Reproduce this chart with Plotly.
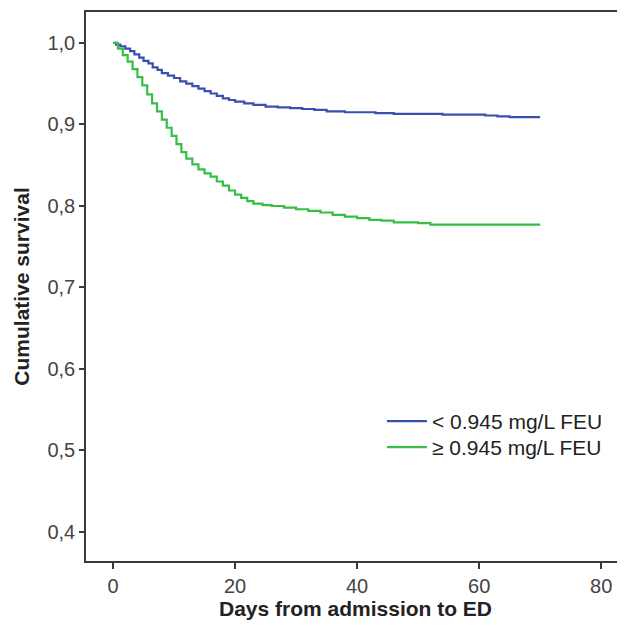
import plotly.graph_objects as go

# Kaplan-Meier step data
blue_days = [0, 0.5, 1.2, 2.0, 2.8, 3.5, 4.3, 5.0, 5.8, 6.5, 7.3, 8.0, 9.0, 10.0, 11.0, 12.0,
             13.0, 14.0, 15.0, 16.0, 17.0, 18.0, 19.0, 20.0, 21.5, 23.0, 25.0, 27.0, 29.0,
             31.0, 33.0, 35.0, 38.0, 43.0, 46.0, 54.0, 61.0, 63.0, 65.0, 70.0]
blue_surv = [1.0, 0.998, 0.996, 0.993, 0.990, 0.986, 0.982, 0.978, 0.975, 0.970, 0.967, 0.963,
             0.960, 0.957, 0.953, 0.950, 0.947, 0.944, 0.941, 0.938, 0.935, 0.932, 0.930,
             0.928, 0.926, 0.924, 0.922, 0.921, 0.920, 0.919, 0.918, 0.916, 0.915, 0.914,
             0.913, 0.912, 0.911, 0.910, 0.909, 0.909]

green_days = [0, 0.8, 1.6, 2.4, 3.2, 4.0, 4.8, 5.6, 6.4, 7.2, 8.0, 8.8, 9.6, 10.4, 11.2, 12.0,
              13.0, 14.0, 15.0, 16.0, 17.0, 18.0, 19.0, 20.0, 21.0, 22.0, 23.0, 24.5, 26.0,
              28.0, 30.0, 32.0, 34.0, 36.0, 38.0, 40.0, 42.0, 44.0, 46.0, 50.0, 52.0, 70.0]
green_surv = [1.0, 0.993, 0.985, 0.977, 0.968, 0.958, 0.948, 0.937, 0.926, 0.916, 0.906, 0.896,
              0.886, 0.876, 0.866, 0.858, 0.851, 0.845, 0.840, 0.836, 0.830, 0.825, 0.819,
              0.814, 0.810, 0.806, 0.803, 0.801, 0.800, 0.798, 0.796, 0.794, 0.792, 0.789,
              0.787, 0.785, 0.783, 0.782, 0.780, 0.779, 0.777, 0.777]

series_names = ["< 0.945 mg/L FEU", "≥ 0.945 mg/L FEU"]
x_ticks = [0, 20, 40, 60, 80]
x_ticktext = ["0", "20", "40", "60", "80"]
y_ticks = [0.4, 0.5, 0.6, 0.7, 0.8, 0.9, 1.0]
y_ticktext = ["0,4", "0,5", "0,6", "0,7", "0,8", "0,9", "1,0"]

FONT = "Liberation Sans, Arial, sans-serif"
AXIS_COLOR = "#3a3a3a"

fig = go.Figure()
fig.add_trace(go.Scatter(x=blue_days, y=blue_surv, mode="lines", name=series_names[0],
                         legend="legend",
                         line=dict(color="#3a4fae", width=2.2, shape="hv")))
fig.add_trace(go.Scatter(x=green_days, y=green_surv, mode="lines", name=series_names[1],
                         legend="legend2",
                         line=dict(color="#36bf45", width=2.2, shape="hv")))

legend_style = dict(xanchor="left", yanchor="top", font=dict(size=21, color="#222222"),
                    bgcolor="rgba(0,0,0,0)", itemwidth=40)

# the page body adds an 8px margin, so the figure is sized/offset to compensate
fig.update_layout(
    width=617, height=620,
    margin=dict(l=78, r=0, t=4, b=67),
    paper_bgcolor="white", plot_bgcolor="white",
    font=dict(family=FONT, color="#333333", size=20),
    showlegend=True,
    legend=dict(x=0.549, y=0.2914, **legend_style),
    legend2=dict(x=0.549, y=0.244, **legend_style),
    xaxis=dict(range=[-4.43, 83.9], tickvals=x_ticks, ticktext=x_ticktext,
               showgrid=False, zeroline=False, showline=True, linecolor=AXIS_COLOR,
               linewidth=1.5, mirror=True, ticks="outside", ticklen=6, tickwidth=1.5,
               tickcolor=AXIS_COLOR, tickfont=dict(size=20, color="#444444"),
               title=dict(text="<b>Days from admission to ED</b>", standoff=6,
                          font=dict(size=21, color="#222222"))),
    yaxis=dict(range=[0.3644, 1.038], tickvals=y_ticks, ticktext=y_ticktext,
               showgrid=False, zeroline=False, showline=True, linecolor=AXIS_COLOR,
               linewidth=1.5, ticks="outside", ticklen=5, tickwidth=1.5,
               tickcolor=AXIS_COLOR, tickfont=dict(size=20, color="#444444"),
               title=dict(text="<b>Cumulative survival</b>", standoff=12,
                          font=dict(size=21, color="#222222"))),
)

fig.write_html("out.html")
